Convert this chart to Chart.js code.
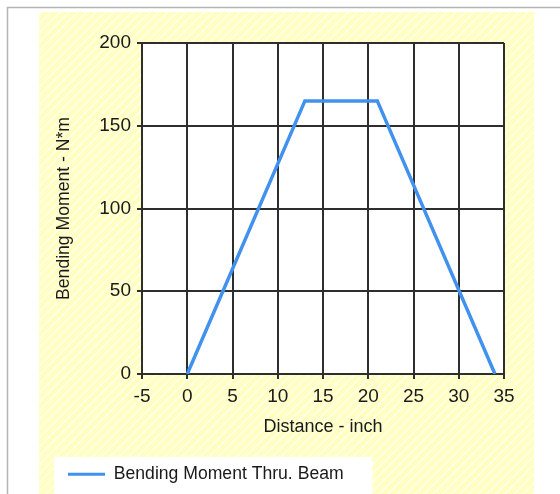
<!DOCTYPE html>
<html>
<head>
<meta charset="utf-8">
<script src="https://cdn.jsdelivr.net/npm/chart.js@4/dist/chart.umd.min.js"></script>
<style>
  html, body { margin: 0; padding: 0; background: #ffffff; }
  #c { display: block; }
</style>
</head>
<body>
<canvas id="c" width="560" height="494"></canvas>
<script>
// ---- data ----
const seriesName = "Bending Moment Thru. Beam";
const distance = [0, 13, 21, 34];          // inch
const moment   = [0, 165, 165, 0];         // N*m
const xTicks = [-5, 0, 5, 10, 15, 20, 25, 30, 35];
const yTicks = [0, 50, 100, 150, 200];
const xTitle = "Distance - inch";
const yTitle = "Bending Moment - N*m";

const FONT = "'Liberation Sans', Arial, sans-serif";
const TEXT = "#1a1a1a";
const GRID = "#2e2e2e";
const LINE = "#4191ee";

function makeHatch() {
  const s = 9;
  const t = document.createElement('canvas');
  t.width = s; t.height = s;
  const g = t.getContext('2d');
  g.fillStyle = '#ffffc2';
  g.fillRect(0, 0, s, s);
  g.strokeStyle = '#fffff0';
  g.lineWidth = 1.5;
  g.beginPath();
  g.moveTo(-1, s + 1); g.lineTo(s + 1, -1);
  g.moveTo(-1 - s, s + 1); g.lineTo(1, -1);
  g.moveTo(s - 1, s + 1); g.lineTo(2 * s + 1, -1);
  g.stroke();
  return t;
}

const backdrop = {
  id: 'backdrop',
  beforeDraw(chart) {
    const ctx = chart.ctx;
    const W = chart.width, H = chart.height;
    ctx.save();
    ctx.fillStyle = '#ffffff';
    ctx.fillRect(0, 0, W, H);
    // outer frame lines
    ctx.strokeStyle = '#b4b4b4';
    ctx.lineWidth = 1.5;
    ctx.beginPath();
    ctx.moveTo(7.5, H); ctx.lineTo(7.5, 7.5); ctx.lineTo(W, 7.5);
    ctx.stroke();
    // hatched panel
    ctx.fillStyle = ctx.createPattern(makeHatch(), 'repeat');
    ctx.fillRect(39, 12, 495, H - 12);
    // plot area
    const a = chart.chartArea;
    ctx.fillStyle = '#ffffff';
    ctx.fillRect(a.left, a.top, a.right - a.left, a.bottom - a.top);
    // legend box
    const lg = chart.legend;
    if (lg && lg.legendHitBoxes && lg.legendHitBoxes.length) {
      const hb = lg.legendHitBoxes[0];
      const l = hb.left - 14, r = hb.left + hb.width + 29;
      ctx.fillRect(l, lg.top + 1.5, r - l, H - lg.top);
    }
    ctx.restore();
  }
};

new Chart(document.getElementById('c'), {
  type: 'line',
  data: {
    datasets: [{
      label: seriesName,
      data: distance.map((x, i) => ({ x: x, y: moment[i] })),
      borderColor: LINE,
      backgroundColor: LINE,
      borderWidth: 3.5,
      pointRadius: 0,
      pointHoverRadius: 0,
      tension: 0,
      fill: false
    }]
  },
  options: {
    responsive: false,
    animation: false,
    devicePixelRatio: 1,
    layout: { padding: { left: 58, right: 56, top: 43, bottom: 1 } },
    plugins: {
      tooltip: { enabled: false },
      legend: {
        position: 'bottom',
        align: 'start',
        labels: {
          color: TEXT,
          font: { family: FONT, size: 17.6 },
          boxWidth: 37,
          boxHeight: 3,
          padding: 10,
          generateLabels(chart) {
            return chart.data.datasets.map((d, i) => ({
              text: d.label,
              fillStyle: d.borderColor,
              strokeStyle: d.borderColor,
              lineWidth: 0,
              hidden: false,
              datasetIndex: i,
              fontColor: TEXT
            }));
          }
        }
      }
    },
    scales: {
      x: {
        type: 'linear',
        min: xTicks[0],
        max: xTicks[xTicks.length - 1],
        afterBuildTicks(s) { s.ticks = xTicks.map(v => ({ value: v })); },
        afterFit(s) { s.height = 81.4; },
        ticks: { color: TEXT, font: { family: FONT, size: 19 }, padding: 6, maxRotation: 0, autoSkip: false },
        grid: { color: GRID, lineWidth: 2, tickLength: 5, drawTicks: true },
        border: { color: GRID, width: 2 },
        title: {
          display: true, text: xTitle, color: TEXT,
          font: { family: FONT, size: 18 },
          padding: { top: 0, bottom: 17.6 }
        }
      },
      y: {
        type: 'linear',
        min: yTicks[0],
        max: yTicks[yTicks.length - 1],
        afterBuildTicks(s) { s.ticks = yTicks.map(v => ({ value: v })); },
        afterFit(s) { s.width = 84; },
        ticks: { color: TEXT, font: { family: FONT, size: 19 }, padding: 6 },
        grid: { color: GRID, lineWidth: 2, tickLength: 5, drawTicks: true },
        border: { color: GRID, width: 2 },
        title: {
          display: true, text: yTitle, color: TEXT,
          font: { family: FONT, size: 17.6 },
          padding: { top: -4, bottom: 0 }
        }
      }
    }
  },
  plugins: [backdrop]
});
</script>
</body>
</html>
